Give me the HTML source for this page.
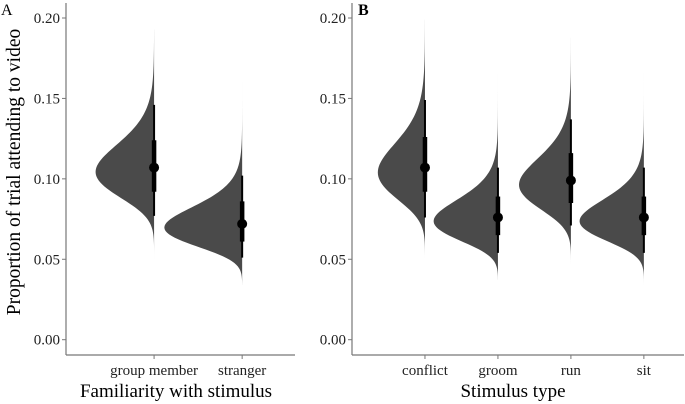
<!DOCTYPE html>
<html><head><meta charset="utf-8"><style>
html,body{margin:0;padding:0;background:#fff;}
svg{display:block;font-family:"Liberation Serif",serif;}
</style></head><body>
<svg id="chart" width="685" height="404" viewBox="0 0 685 404">
<text x="1" y="15" font-size="16">A</text>
<text x="358" y="15" font-size="16" font-weight="bold">B</text>
<text transform="translate(20,172) rotate(-90)" text-anchor="middle" font-size="19.5">Proportion of trial attending to video</text>
<text x="176" y="397" text-anchor="middle" font-size="19">Familiarity with stimulus</text>
<text x="513" y="397" text-anchor="middle" font-size="19">Stimulus type</text>
</svg>
<script>
const yTicks=[0,0.05,0.10,0.15,0.20];
const yTickLabels=["0.00","0.05","0.10","0.15","0.20"];
const catsA=["group member","stranger"];
const medA=[0.107,0.072];
const thickLoA=[0.092,0.061], thickHiA=[0.124,0.086];
const thinLoA=[0.077,0.051], thinHiA=[0.146,0.102];
const minA=[0.050,0.034], maxA=[0.193,0.160];
const catsB=["conflict","groom","run","sit"];
const medB=[0.107,0.076,0.099,0.076];
const thickLoB=[0.092,0.065,0.085,0.065], thickHiB=[0.126,0.089,0.116,0.089];
const thinLoB=[0.076,0.054,0.071,0.054], thinHiB=[0.149,0.107,0.137,0.107];
const minB=[0.051,0.037,0.047,0.034], maxB=[0.199,0.165,0.188,0.166];

const NS="http://www.w3.org/2000/svg";
const svg=document.getElementById('chart');
function yS(v){return 339.7-v/0.2*321.7;}
function mk(tag,attrs){const e=document.createElementNS(NS,tag);for(const k in attrs)e.setAttribute(k,attrs[k]);svg.appendChild(e);return e;}

function panel(p){
  const ax=mk('line',{x1:p.x0,y1:3,x2:p.x0,y2:355,stroke:'#777','stroke-width':1.2});
  
  
  const bx=mk('line',{x1:p.x0,y1:355,x2:p.x1,y2:355,stroke:'#777','stroke-width':1.2});
  
  
  yTicks.forEach((t,i)=>{
    const tk=mk('line',{x1:p.x0-4,y1:yS(t),x2:p.x0,y2:yS(t),stroke:'#777','stroke-width':1});
    
    
    const tl=mk('text',{x:p.x0-6,y:yS(t)+5,'text-anchor':'end','font-size':15,fill:'#222'});
    tl.textContent=yTickLabels[i];
    
    
  });
  const n=p.cats.length;
  const step=(p.x1-p.x0)/(n+ (p.id==='a'?0.6:0.55));
  p.cats.forEach((c,i)=>{
    const cx=p.x0+step*(i+1);
    const tk=mk('line',{x1:cx,y1:355,x2:cx,y2:359,stroke:'#777','stroke-width':1});
    
    
    const tl=mk('text',{x:cx,y:375,'text-anchor':'middle','font-size':15,fill:'#222'});
    tl.textContent=c;
    
    
    const mu=Math.log(p.med[i]);
    const s=Math.log(p.thinHi[i]/p.med[i])/1.96;
    let d='';
    const N=120;
    for(let j=0;j<=N;j++){
      const v=p.min[i]+(p.max[i]-p.min[i])*j/N;
      const z=(Math.log(v)-mu)/s;
      const dens=Math.exp(-0.5*z*z)/(v*s*Math.sqrt(2*Math.PI));
      const w=dens*p.k*Math.sqrt(2*Math.PI);
      d+=(j?'L':'M')+(cx-w).toFixed(2)+','+yS(v).toFixed(2);
    }
    d+='L'+cx+','+yS(p.max[i])+'L'+cx+','+yS(p.min[i])+'Z';
    const sh=mk('path',{d:d,fill:'#4a4a4a'});
    
    
    const th=mk('line',{x1:cx,y1:yS(p.thinLo[i]),x2:cx,y2:yS(p.thinHi[i]),stroke:'#000','stroke-width':2});
    
    
    const tk2=mk('line',{x1:cx,y1:yS(p.thickLo[i]),x2:cx,y2:yS(p.thickHi[i]),stroke:'#000','stroke-width':4.5});
    
    
    const pt=mk('circle',{cx:cx,cy:yS(p.med[i]),r:5,fill:'#000'});
    
    
  });
}
panel({id:'a',x0:66,x1:295,k:0.98,cats:catsA,med:medA,thickLo:thickLoA,thickHi:thickHiA,thinLo:thinLoA,thinHi:thinHiA,min:minA,max:maxA});
panel({id:'b',x0:352,x1:684,k:0.84,cats:catsB,med:medB,thickLo:thickLoB,thickHi:thickHiB,thinLo:thinLoB,thinHi:thinHiB,min:minB,max:maxB});
</script>
</body></html>
